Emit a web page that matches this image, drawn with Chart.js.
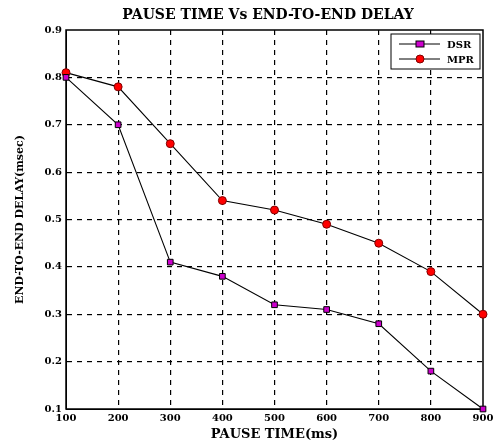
<!DOCTYPE html>
<html>
<head>
<meta charset="utf-8">
<script src="https://cdn.jsdelivr.net/npm/chart.js@4"></script>
<style>
  html, body { margin: 0; padding: 0; background: #fff; }
  #wrap { width: 498px; height: 442px; }
</style>
</head>
<body>
<div id="wrap"><canvas id="myChart" width="498" height="442"></canvas></div>
<script>
// Dados
const pauseTimes = [100, 200, 300, 400, 500, 600, 700, 800, 900];
const dsrDelay = [0.80, 0.70, 0.41, 0.38, 0.32, 0.31, 0.28, 0.18, 0.10];
const mprDelay = [0.81, 0.78, 0.66, 0.54, 0.52, 0.49, 0.45, 0.39, 0.30];
const seriesNames = ['DSR', 'MPR'];
const chartTitle = 'PAUSE TIME Vs END-TO-END DELAY';
const xTitle = 'PAUSE TIME(ms)';
const yTitle = 'END-TO-END DELAY(msec)';

const FONT = '"DejaVu Serif", "Liberation Serif", serif';
const DASH = [5, 5];

function toPoints(values) {
  return pauseTimes.map((x, i) => ({ x: x, y: values[i] }));
}

// Linhas de grade: invisíveis nas bordas (a moldura cobre)
function gridColor(c) {
  return (c.index === 0 || c.index === 8) ? 'rgba(0,0,0,0)' : '#000';
}

// Plugin: moldura (antes das séries), título e legenda (depois)
const framePlugin = {
  id: 'frame',
  beforeDatasetsDraw(chart) {
    const { ctx, chartArea: a } = chart;
    ctx.save();
    ctx.strokeStyle = '#000';
    ctx.lineWidth = 1.5;
    ctx.setLineDash([]);
    ctx.strokeRect(a.left, a.top, a.right - a.left, a.bottom - a.top);
    ctx.restore();
  },
  afterDraw(chart) {
    const { ctx } = chart;
    ctx.save();
    ctx.setLineDash([]);

    // título
    ctx.fillStyle = '#000';
    ctx.font = 'bold 14px ' + FONT;
    ctx.textAlign = 'center';
    ctx.textBaseline = 'middle';
    ctx.fillText(chartTitle, 268, 15);

    // legenda
    const lx = 391, ly = 34, lw = 89, lh = 35;
    ctx.fillStyle = '#fff';
    ctx.fillRect(lx, ly, lw, lh);
    ctx.strokeStyle = '#000';
    ctx.lineWidth = 1;
    ctx.strokeRect(lx, ly, lw, lh);
    chart.data.datasets.forEach((ds, i) => {
      const y = ly + 10 + i * 15;
      ctx.strokeStyle = '#000';
      ctx.beginPath();
      ctx.moveTo(lx + 8, y);
      ctx.lineTo(lx + 49, y);
      ctx.stroke();
      ctx.fillStyle = ds.pointBackgroundColor;
      ctx.strokeStyle = ds.pointBorderColor;
      if (ds.pointStyle === 'rect') {
        ctx.fillRect(lx + 25, y - 3, 8, 6);
        ctx.strokeRect(lx + 25, y - 3, 8, 6);
      } else {
        ctx.beginPath();
        ctx.arc(lx + 29, y, 4, 0, Math.PI * 2);
        ctx.fill();
        ctx.stroke();
      }
      ctx.fillStyle = '#000';
      ctx.font = 'bold 10px ' + FONT;
      ctx.textAlign = 'left';
      ctx.fillText(ds.label, lx + 56, y + 1);
    });
    ctx.restore();
  }
};

const ctx = document.getElementById('myChart').getContext('2d');

new Chart(ctx, {
  type: 'line',
  data: {
    datasets: [
      {
        label: seriesNames[0],
        data: toPoints(dsrDelay),
        borderColor: '#000',
        borderWidth: 1.1,
        pointStyle: 'rect',
        pointRadius: 4,
        pointBackgroundColor: '#cc00cc',
        pointBorderColor: '#000',
        pointBorderWidth: 1,
        tension: 0,
        clip: false
      },
      {
        label: seriesNames[1],
        data: toPoints(mprDelay),
        borderColor: '#000',
        borderWidth: 1.1,
        pointStyle: 'circle',
        pointRadius: 4,
        pointBackgroundColor: '#ff0000',
        pointBorderColor: '#800000',
        pointBorderWidth: 1,
        tension: 0,
        clip: false
      }
    ]
  },
  options: {
    responsive: false,
    animation: false,
    layout: { padding: { top: 30, right: 15, left: 14, bottom: 0 } },
    plugins: {
      legend: { display: false },
      title: { display: false },
      tooltip: { enabled: false }
    },
    scales: {
      x: {
        type: 'linear',
        min: 100,
        max: 900,
        ticks: {
          stepSize: 100,
          color: '#000',
          font: { family: FONT, size: 10, weight: 'bold' },
          padding: 3,
          maxRotation: 0
        },
        grid: {
          color: gridColor,
          lineWidth: 1.2,
          drawTicks: false,
          borderDash: DASH
        },
        border: { display: true, color: '#000', dash: DASH },
        title: {
          display: true,
          text: xTitle,
          color: '#000',
          font: { family: FONT, size: 13, weight: 'bold' },
          padding: { top: 0, bottom: 0 }
        },
        afterFit: (scale) => { scale.height = 33; }
      },
      y: {
        min: 0.1,
        max: 0.9,
        ticks: {
          stepSize: 0.1,
          color: '#000',
          font: { family: FONT, size: 10, weight: 'bold' },
          padding: 4,
          callback: (v) => v.toFixed(1)
        },
        grid: {
          color: gridColor,
          lineWidth: 1.2,
          drawTicks: false,
          borderDash: DASH
        },
        border: { display: true, color: '#000', dash: DASH },
        title: {
          display: true,
          text: yTitle,
          color: '#000',
          font: { family: FONT, size: 11, weight: 'bold' },
          padding: { top: 0, bottom: 4 }
        },
        afterFit: (scale) => { scale.width = 52; }
      }
    }
  },
  plugins: [framePlugin]
});
</script>
</body>
</html>
